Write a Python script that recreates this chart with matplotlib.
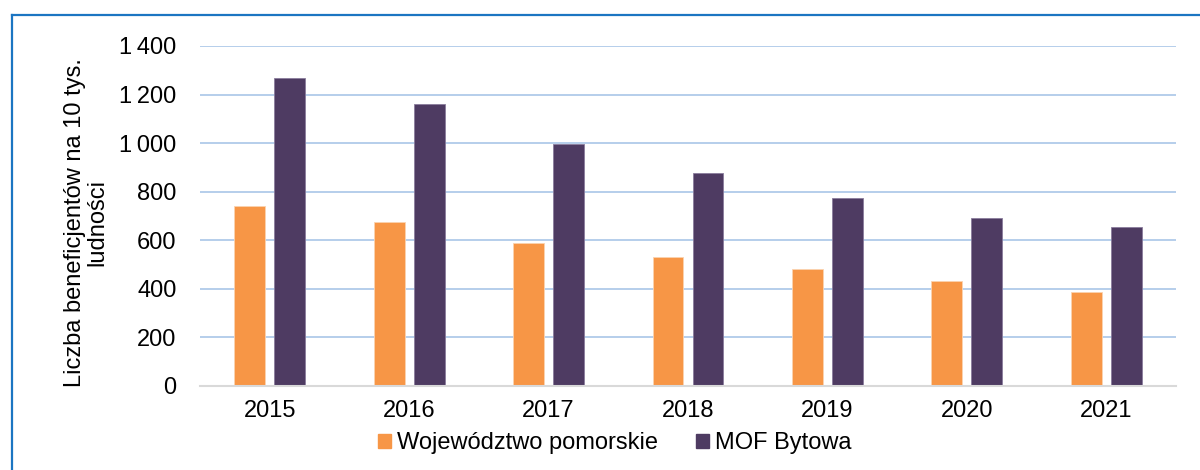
import matplotlib.pyplot as plt
import numpy as np
from matplotlib.lines import Line2D
from matplotlib.patches import Patch

plt.rcParams['font.family'] = ['Liberation Sans', 'DejaVu Sans']

# Dane
lata = ['2015', '2016', '2017', '2018', '2019', '2020', '2021']
pomorskie = [741, 676, 587, 532, 482, 432, 387]
bytow = [1267, 1161, 995, 878, 774, 692, 654]
y_ticks = [0, 200, 400, 600, 800, 1000, 1200, 1400]
y_labels = ['0', '200', '400', '600', '800', '1\u2009000', '1\u2009200', '1\u2009400']

kol_pom = '#F79646'
kol_byt = '#4E3B62'
fs = 17

W, H = 1200, 470
fig = plt.figure(figsize=(W / 100, H / 100), dpi=100)
ax = fig.add_axes([200 / W, 1 - 386 / H, 976 / W, 340 / H])

x = np.arange(len(lata))
szer = 0.222
off = 0.1435
ax.bar(x - off, pomorskie, szer, color=kol_pom, edgecolor='#FBD3B0', linewidth=0.6, zorder=3)
ax.bar(x + off, bytow, szer, color=kol_byt, edgecolor='#8A7C9C', linewidth=0.6, zorder=3)

ax.set_xlim(-0.5, len(lata) - 0.5)
ax.set_ylim(0, 1400)
ax.set_yticks(y_ticks)
ax.set_yticklabels(y_labels)
ax.set_xticks(x)
ax.set_xticklabels(lata)
ax.tick_params(axis='y', length=0, pad=17, labelsize=fs)
ax.tick_params(axis='x', length=0, pad=10, labelsize=fs)

ax.grid(axis='y', color='#A9C6E8', linewidth=1.2, zorder=0)
for s in ['top', 'right', 'left']:
    ax.spines[s].set_visible(False)
ax.spines['bottom'].set_color('#D9D9D9')
ax.spines['bottom'].set_linewidth(1.5)
ax.spines['bottom'].set_zorder(4)

fig.text(86 / W, 1 - 223 / H, 'Liczba beneficjentów na 10 tys.\nludności',
         rotation=90, ha='center', va='center', multialignment='center',
         fontsize=fs, linespacing=1.0)

uchwyty = [Patch(color=kol_pom), Patch(color=kol_byt)]
fig.legend(uchwyty, ['Województwo pomorskie', 'MOF Bytowa'],
           loc='center', bbox_to_anchor=(614.5 / W, 1 - 443 / H), ncol=2,
           frameon=False, fontsize=fs, handlelength=0.55, handleheight=0.55,
           handletextpad=0.25, columnspacing=1.6, borderaxespad=0, borderpad=0)

# ramka
ramka_x = 11.5 / W
ramka_y = 1 - 14.5 / H
fig.add_artist(Line2D([ramka_x, ramka_x], [0, ramka_y], color='#1B75C2', linewidth=1.6))
fig.add_artist(Line2D([ramka_x, 1], [ramka_y, ramka_y], color='#1B75C2', linewidth=1.6))

fig.savefig('out.png', dpi=100)
